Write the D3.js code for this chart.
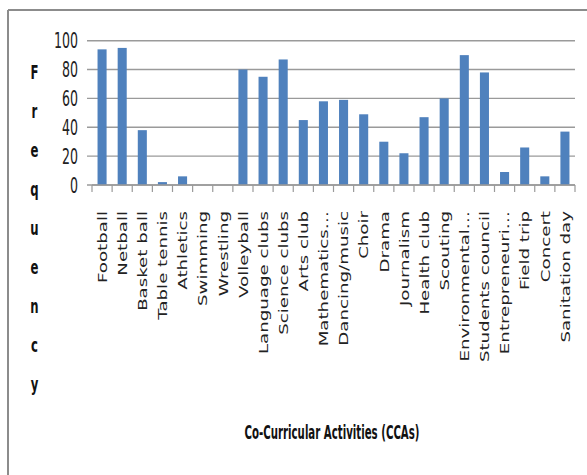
<!DOCTYPE html>
<html>
<head>
<meta charset="utf-8">
<script src="https://cdn.jsdelivr.net/npm/d3@7"></script>
<style>
  body { margin:0; background:#fff; }
</style>
</head>
<body>
<div id="chart"></div>
<script>
var categories = ["Football","Netball","Basket ball","Table tennis","Athletics","Swimming","Wrestling",
  "Volleyball","Language clubs","Science clubs","Arts club","Mathematics\u2026","Dancing/music","Choir",
  "Drama","Journalism","Health club","Scouting","Environmental\u2026","Students council","Entrepreneuri\u2026",
  "Field trip","Concert","Sanitation day"];
var frequencies = [94,95,38,2,6,0,0,80,75,87,45,58,59,49,30,22,47,60,90,78,9,26,6,37];
var yTicks = [0,20,40,60,80,100];
var yTitle = "Frequency";
var xTitle = "Co-Curricular Activities (CCAs)";

var width = 587, height = 475;
var plotLeft = 92, plotRight = 575, plotTop = 40.7, plotBottom = 185;
var narrow = "'Liberation Sans Narrow','DejaVu Sans Condensed',sans-serif";

var svg = d3.select("#chart").append("svg")
  .attr("width", width)
  .attr("height", height)
  .style("display", "block");

// outer frame (only top and left visible)
svg.append("line")
  .attr("x1", 8).attr("y1", 10).attr("x2", 587).attr("y2", 10)
  .attr("stroke", "#8c8c8c").attr("stroke-width", 2);
svg.append("line")
  .attr("x1", 8).attr("y1", 10).attr("x2", 8).attr("y2", 475)
  .attr("stroke", "#8c8c8c").attr("stroke-width", 2);

//scalers
var xscale = d3.scaleBand()
  .domain(categories)
  .range([plotLeft, plotRight])
  .paddingInner(0.55)
  .paddingOuter(0.275);
var yscale = d3.scaleLinear()
  .domain([0, 100])
  .range([plotBottom, plotTop]);

// gridlines
svg.append("g").selectAll("line")
  .data(yTicks)
  .enter().append("line")
  .attr("x1", plotLeft - 5)
  .attr("x2", plotRight)
  .attr("y1", function(d){ return yscale(d); })
  .attr("y2", function(d){ return yscale(d); })
  .attr("stroke", "#9a9a9a")
  .attr("stroke-width", 1.4);

// y tick labels
svg.append("g").selectAll("text")
  .data(yTicks)
  .enter().append("text")
  .attr("transform", function(d){ return "translate(78," + yscale(d) + ") scale(1,1.5)"; })
  .attr("dy", "0.36em")
  .attr("text-anchor", "end")
  .attr("font-family", narrow)
  .attr("font-size", 14)
  .attr("fill", "#222")
  .text(function(d){ return d; });

// bars
svg.append("g").selectAll("rect")
  .data(frequencies)
  .enter().append("rect")
  .attr("x", function(d, i){ return xscale(categories[i]); })
  .attr("width", xscale.bandwidth())
  .attr("y", function(d){ return yscale(d); })
  .attr("height", function(d){ return plotBottom - yscale(d); })
  .attr("fill", "#4f81bd");

// x axis line + ticks
var step = xscale.step();
var edges = d3.range(categories.length + 1);
svg.append("line")
  .attr("x1", plotLeft).attr("x2", plotRight)
  .attr("y1", plotBottom).attr("y2", plotBottom)
  .attr("stroke", "#9a9a9a").attr("stroke-width", 1.4);
svg.append("g").selectAll("line")
  .data(edges)
  .enter().append("line")
  .attr("x1", function(d){ return plotLeft + d * step; })
  .attr("x2", function(d){ return plotLeft + d * step; })
  .attr("y1", plotBottom).attr("y2", plotBottom + 7)
  .attr("stroke", "#9a9a9a").attr("stroke-width", 1.2);

// category labels, rotated
svg.append("g").selectAll("text")
  .data(categories)
  .enter().append("text")
  .attr("transform", function(d){
    return "translate(" + (xscale(d) + xscale.bandwidth() / 2) + ",211) rotate(-90) scale(1.4,1)";
  })
  .attr("dy", "0.36em")
  .attr("text-anchor", "end")
  .attr("font-family", "'DejaVu Sans',Verdana,sans-serif")
  .attr("font-size", 13)
  .attr("fill", "#222")
  .text(function(d){ return d; });

// y title, stacked letters
svg.append("g").selectAll("text")
  .data(yTitle.split(""))
  .enter().append("text")
  .attr("transform", function(d, i){ return "translate(34.5," + (72 + i * 39) + ") scale(1,1.5)"; })
  .attr("dy", "0.36em")
  .attr("text-anchor", "middle")
  .attr("font-family", narrow)
  .attr("font-weight", "bold")
  .attr("font-size", 13)
  .attr("fill", "#111")
  .text(function(d){ return d; });

// x title
svg.append("text")
  .attr("transform", "translate(332,432) scale(1,1.5)")
  .attr("dy", "0.36em")
  .attr("text-anchor", "middle")
  .attr("font-family", narrow)
  .attr("font-weight", "bold")
  .attr("font-size", 13)
  .attr("fill", "#111")
  .attr("textLength", 175)
  .attr("lengthAdjust", "spacingAndGlyphs")
  .text(xTitle);
</script>
</body>
</html>
